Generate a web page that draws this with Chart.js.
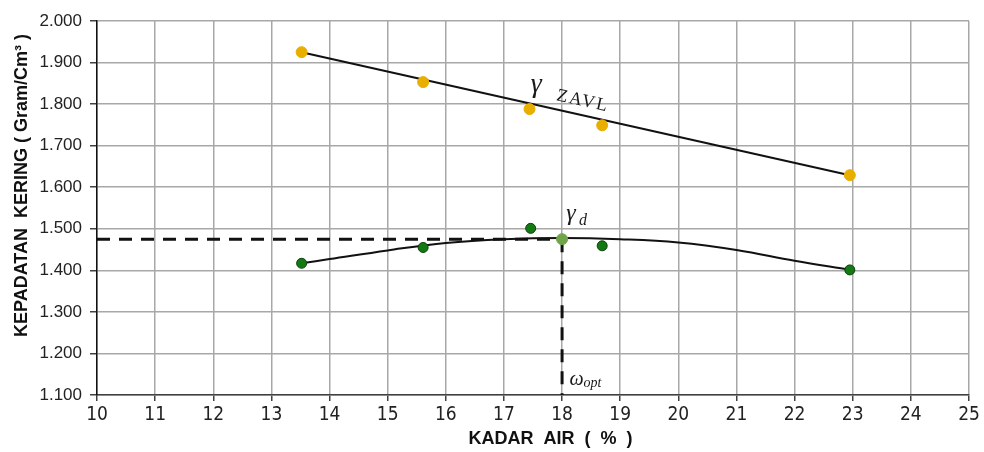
<!DOCTYPE html>
<html>
<head>
<meta charset="utf-8">
<script src="https://cdn.jsdelivr.net/npm/chart.js@4.4.1/dist/chart.umd.min.js"></script>
<style>
  html, body { margin: 0; padding: 0; background: #fff; }
</style>
</head>
<body>
<canvas id="proctorChart" width="984" height="452"></canvas>
<script>
  // measured points
  const zavlX = [13.52, 15.61, 17.44, 18.69, 22.95];
  const zavlY = [1.925, 1.853, 1.788, 1.749, 1.629];
  const zavlLineX = [13.52, 22.95];
  const zavlLineY = [1.925, 1.629];

  const dryX = [13.52, 15.61, 17.46, 18.69, 22.95];
  const dryY = [1.417, 1.455, 1.501, 1.459, 1.401];

  // compaction curve
  const curveX = [13.52, 14, 15, 16, 17, 18, 19, 20, 21, 22, 22.95];
  const curveY = [1.417, 1.427, 1.448, 1.466, 1.475, 1.478, 1.475, 1.467, 1.449, 1.423, 1.401];

  const optX = 18.0;
  const optY = 1.475;

  const xMin = 10, xMax = 25;
  const yMin = 1.1, yMax = 2.0;

  const toPts = (xs, ys) => xs.map((v, i) => ({ x: v, y: ys[i] }));

  const labelsPlugin = {
    id: "curveLabels",
    afterDatasetsDraw(chart) {
      const { ctx, scales: { x, y } } = chart;
      ctx.save();
      ctx.fillStyle = "#1a1a1a";
      ctx.textBaseline = "alphabetic";

      // gamma ZAVL
      ctx.font = "italic 28px 'Liberation Serif', serif";
      ctx.fillText("γ", x.getPixelForValue(17.46), y.getPixelForValue(1.829));
      const ang = Math.atan2(
        y.getPixelForValue(zavlLineY[1]) - y.getPixelForValue(zavlLineY[0]),
        x.getPixelForValue(zavlLineX[1]) - x.getPixelForValue(zavlLineX[0])
      );
      ctx.save();
      ctx.translate(x.getPixelForValue(17.89), y.getPixelForValue(1.81));
      ctx.rotate(ang);
      ctx.font = "18px 'Liberation Serif', serif";
      ctx.letterSpacing = "2px";
      ctx.fillText("ZAVL", 0, 0);
      ctx.restore();

      // gamma d
      ctx.font = "italic 24px 'Liberation Serif', serif";
      ctx.fillText("γ", x.getPixelForValue(18.07), y.getPixelForValue(1.521));
      ctx.font = "italic 16px 'Liberation Serif', serif";
      ctx.fillText("d", x.getPixelForValue(18.29), y.getPixelForValue(1.51));

      // omega opt
      ctx.font = "italic 20px 'Liberation Serif', serif";
      ctx.fillText("ω", x.getPixelForValue(18.13), y.getPixelForValue(1.124));
      ctx.font = "italic 14px 'Liberation Serif', serif";
      ctx.fillText("opt", x.getPixelForValue(18.37), y.getPixelForValue(1.119));
      ctx.restore();
    },
  };

  const ctx = document.getElementById("proctorChart");

  const chart = new Chart(ctx, {
    type: "scatter",
    data: {
      datasets: [
        {
          label: "ZAVL",
          data: toPts(zavlLineX, zavlLineY),
          showLine: true,
          borderColor: "#111",
          borderWidth: 2,
          pointRadius: 0,
          order: 3,
        },
        {
          label: "Kurva",
          data: toPts(curveX, curveY),
          showLine: true,
          tension: 0.4,
          borderColor: "#111",
          borderWidth: 2,
          pointRadius: 0,
          order: 3,
        },
        {
          label: "Garis gd",
          data: [{ x: xMin, y: optY }, { x: optX, y: optY }],
          showLine: true,
          borderColor: "#111",
          borderWidth: 3,
          borderDash: [13, 9],
          pointRadius: 0,
          order: 2,
        },
        {
          label: "Garis wopt",
          data: [{ x: optX, y: optY }, { x: optX, y: yMin }],
          showLine: true,
          borderColor: "#111",
          borderWidth: 3,
          borderDash: [13, 9],
          pointRadius: 0,
          order: 2,
        },
        {
          label: "Titik ZAVL",
          data: toPts(zavlX, zavlY),
          backgroundColor: "#e8ae00",
          borderColor: "#e8ae00",
          pointRadius: 5.5,
          order: 0,
        },
        {
          label: "Titik gd",
          data: toPts(dryX, dryY),
          backgroundColor: "#137a13",
          borderColor: "#0b3f0b",
          borderWidth: 1,
          pointRadius: 5,
          order: 0,
        },
        {
          label: "Optimum",
          data: [{ x: optX, y: optY }],
          backgroundColor: "#70a44a",
          borderColor: "#70a44a",
          pointRadius: 5.5,
          order: 0,
        },
      ],
    },
    options: {
      responsive: false,
      animation: false,
      layout: {
        padding: { top: 21, right: 15, left: 0, bottom: 0 },
      },
      scales: {
        x: {
          type: "linear",
          min: xMin,
          max: xMax,
          afterFit: (s) => { s.height = 57; },
          ticks: {
            stepSize: 1,
            color: "#222",
            padding: 3,
            font: { family: "'Liberation Sans Narrow', 'DejaVu Sans Condensed', 'Liberation Sans', sans-serif", size: 19 },
          },
          grid: {
            color: "#a8a8a8",
            lineWidth: 1.5,
            tickLength: 6,
            tickColor: "#404040",
          },
          border: { color: "#404040", width: 1.5 },
          title: {
            display: true,
            text: "\u00a0\u00a0\u00a0\u00a0\u00a0\u00a0\u00a0KADAR  AIR  (  %  )",
            color: "#111",
            font: { family: "'Liberation Sans', Arial, sans-serif", size: 18, weight: "bold" },
            padding: { top: 0, bottom: 2 },
          },
        },
        y: {
          min: yMin,
          max: yMax,
          afterFit: (s) => { s.width = 97; },
          ticks: {
            stepSize: 0.1,
            color: "#222",
            padding: 8,
            font: { family: "'Liberation Sans', Arial, sans-serif", size: 17 },
            callback: (v) => v.toFixed(3),
          },
          grid: {
            color: "#a8a8a8",
            lineWidth: 1.5,
            tickLength: 7,
            tickColor: "#404040",
          },
          border: { color: "#111", width: 1.5 },
          title: {
            display: true,
            text: "\u00a0\u00a0\u00a0\u00a0\u00a0\u00a0\u00a0\u00a0\u00a0KEPADATAN  KERING ( Gram/Cm³ )",
            color: "#111",
            font: { family: "'Liberation Sans', Arial, sans-serif", size: 18, weight: "bold" },
            padding: { top: 11, bottom: 0 },
          },
        },
      },
      plugins: {
        legend: { display: false },
        tooltip: { enabled: false },
      },
    },
    plugins: [labelsPlugin],
  });
</script>
</body>
</html>
